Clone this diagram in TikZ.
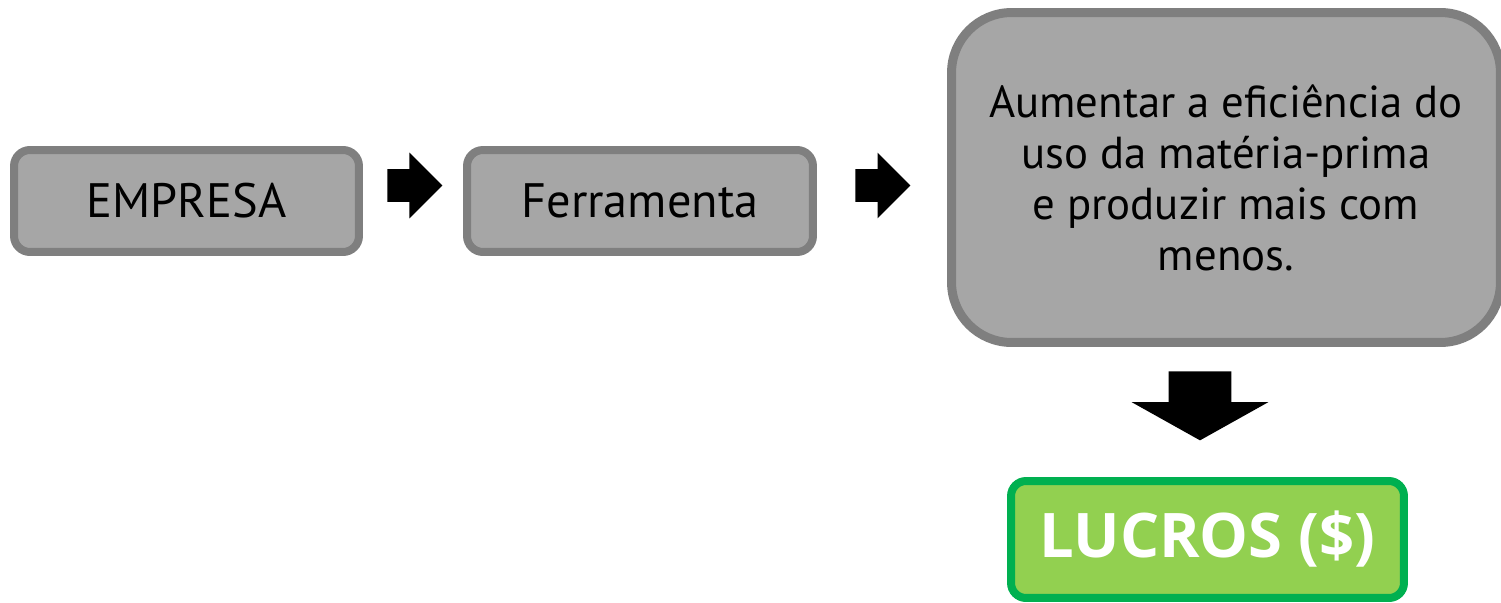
\documentclass[tikz,border=0pt]{standalone}
\usepackage{fontspec}
\setmainfont{PT Sans}
\newfontfamily\lucrosfont{Open Sans}
\usetikzlibrary{shapes.arrows}

\begin{document}
\begin{tikzpicture}[x=0.02cm, y=-0.02cm,
    graybox/.style={draw=boxborder, fill=boxfill, rounded corners=0.32cm, line width=0.16cm,
        minimum width=6.9cm, minimum height=2.04cm, font=\fontsize{27.5}{32}\selectfont},
    blockarrow/.style={single arrow, fill=black, draw=none, inner xsep=0pt, inner ysep=0.32cm,
        minimum height=1.1cm, minimum width=1.3cm, single arrow head extend=0.33cm, anchor=tail}]
\definecolor{boxfill}{HTML}{A6A6A6}
\definecolor{boxborder}{HTML}{7F7F7F}
\definecolor{lucrosfill}{HTML}{92D050}
\definecolor{lucrosborder}{HTML}{00B050}
\useasboundingbox (0,0) rectangle (1501,602);

% Boxes
\node[graybox] (empresa) at (186.5,201) {EMPRESA};
\node[graybox, minimum width=6.92cm] (ferramenta) at (640,201) {Ferramenta};
\node[graybox, rounded corners=1.2cm, line width=0.18cm, minimum width=10.98cm, minimum height=6.6cm,
    align=center, font=\fontsize{25.5}{29}\selectfont] (objetivo) at (1226,177.5)
    {Aumentar a eficiência do\\uso da matéria-prima\\e produzir mais com\\menos.};
\node[draw=lucrosborder, fill=lucrosfill, rounded corners=0.3cm, line width=0.16cm,
    minimum width=7.86cm, minimum height=2.34cm, text=white,
    font=\lucrosfont\bfseries\fontsize{35}{40}\selectfont] (lucros) at (1207.5,539.5) {LUCROS (\$)};

% Arrows
\node[blockarrow] (seta1) at (387,185.5) {};
\node[blockarrow] (seta2) at (855,185.5) {};
\node[blockarrow, rotate=-90, inner ysep=0.62cm, minimum height=1.38cm, minimum width=2.72cm,
    single arrow tip angle=121.6, single arrow head extend=0.74cm] (seta3) at (1200,371) {};
\end{tikzpicture}
\end{document}
